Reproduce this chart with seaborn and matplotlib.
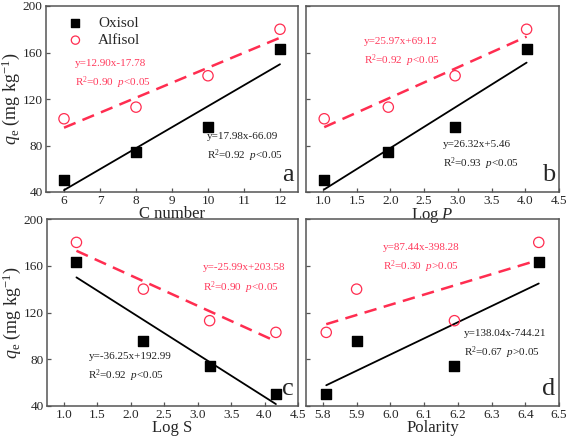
import numpy as np
import pandas as pd
import seaborn as sns
import matplotlib.pyplot as plt

# adsorbed amount q_e (mg/kg) of the four compounds
oxisol = [50, 74, 96, 163]
alfisol = [103, 113, 140, 180]

# compound descriptors, same compound order as above
c_number = [6, 8, 10, 12]
log_p = [1.02, 1.97, 2.96, 4.02]
log_s = [4.17, 3.18, 2.19, 1.19]
polarity = [5.81, 6.19, 5.90, 6.44]

red = '#ff2d50'
red_txt = '#ff3a5c'

panels = [
    # x values, xlabel, xlim, xticks, letter, red text (pos), black text (pos)
    (c_number, 'C number', (5.5, 12.5), np.arange(6, 13, 1), 'a',
     ('y=12.90x-17.78', r'R$^2$=0.90  $p$<0.05', 0.115, 0.69),
     ('y=17.98x-66.09', r'R$^2$=0.92  $p$<0.05', 0.64, 0.30)),
    (log_p, r'Log $P$', (0.75, 4.5), np.arange(1.0, 4.51, 0.5), 'b',
     ('y=25.97x+69.12', r'R$^2$=0.92  $p$<0.05', 0.23, 0.81),
     ('y=26.32x+5.46', r'R$^2$=0.93  $p$<0.05', 0.54, 0.255)),
    (log_s, 'Log S', (0.75, 4.5), np.arange(1.0, 4.51, 0.5), 'c',
     ('y=-25.99x+203.58', r'R$^2$=0.90  $p$<0.05', 0.62, 0.74),
     ('y=-36.25x+192.99', r'R$^2$=0.92  $p$<0.05', 0.165, 0.265)),
    (polarity, 'Polarity', (5.75, 6.5), np.arange(5.8, 6.51, 0.1), 'd',
     ('y=87.44x-398.28', r'R$^2$=0.30  $p$>0.05', 0.305, 0.85),
     ('y=138.04x-744.21', r'R$^2$=0.67  $p$>0.05', 0.625, 0.39)),
]

sns.set_theme(style='ticks')
plt.rcParams['font.family'] = ['Liberation Serif', 'DejaVu Serif']
plt.rcParams['mathtext.fontset'] = 'custom'
plt.rcParams['mathtext.rm'] = 'Liberation Serif'
plt.rcParams['mathtext.it'] = 'Liberation Serif:italic'
plt.rcParams['xtick.direction'] = 'in'
plt.rcParams['ytick.direction'] = 'in'

fig = plt.figure(figsize=(5.67, 4.38), dpi=100)
boxes = [
    [46 / 567, 1 - 192 / 438, 252 / 567, 186 / 438],
    [306 / 567, 1 - 192 / 438, 253 / 567, 186 / 438],
    [47 / 567, 1 - 406 / 438, 251 / 567, 187 / 438],
    [306 / 567, 1 - 406 / 438, 253 / 567, 187 / 438],
]

for i, (xv, xlabel, xlim, xticks, letter, rtxt, btxt) in enumerate(panels):
    ax = fig.add_axes(boxes[i])
    ax.patch.set_alpha(0)
    df = pd.DataFrame({'x': xv, 'Oxisol': oxisol, 'Alfisol': alfisol})

    sns.regplot(data=df, x='x', y='Oxisol', ax=ax, scatter=False, ci=None,
                line_kws={'color': 'black', 'lw': 1.3})
    sns.regplot(data=df, x='x', y='Alfisol', ax=ax, scatter=False, ci=None,
                line_kws={'color': red, 'lw': 1.8, 'ls': (0, (5, 3))})
    ax.scatter(df['x'], df['Oxisol'], marker='s', s=45, color='black',
               label='Oxisol', zorder=3)
    ax.scatter(df['x'], df['Alfisol'], marker='o', s=55, facecolor='none',
               edgecolor=red, linewidths=0.9, label='Alfisol', zorder=3)

    ax.set_xlim(*xlim)
    ax.set_ylim(40, 200)
    ax.set_xticks(xticks)
    if letter != 'a':
        ax.set_xticklabels(['%.1f' % t for t in xticks])
    ax.set_yticks([40, 80, 120, 160, 200])
    ax.tick_params(labelsize=9.5, length=3, width=0.9, color='#555555', pad=2.5)
    for s in ax.spines.values():
        s.set_color('#555555')
        s.set_linewidth(1.1)
    ax.set_xlabel(xlabel, fontsize=12, labelpad=-1)
    if i % 2 == 0:
        ax.set_ylabel(r'$q_\mathrm{e}$ (mg kg$^{-1}$)', fontsize=13)
        ax.yaxis.set_label_coords(-0.097, 0.5)
    else:
        ax.set_ylabel('')
        ax.set_yticklabels([])

    ax.text(rtxt[2], rtxt[3], rtxt[0], transform=ax.transAxes, color=red_txt,
            fontsize=8, va='center')
    ax.text(rtxt[2], rtxt[3] - 0.105, rtxt[1], transform=ax.transAxes,
            color=red_txt, fontsize=8, va='center')
    ax.text(btxt[2], btxt[3], btxt[0], transform=ax.transAxes, color='#222222',
            fontsize=8, va='center')
    ax.text(btxt[2], btxt[3] - 0.105, btxt[1], transform=ax.transAxes,
            color='#222222', fontsize=8, va='center')
    ax.text(0.985, 0.03, letter, transform=ax.transAxes, fontsize=19,
            ha='right', va='bottom')

    if i == 0:
        ax.legend(loc='upper left', frameon=False, fontsize=11,
                  bbox_to_anchor=(0.044, 1.0), handlelength=1.0,
                  handletextpad=1.0, labelspacing=0.2, borderaxespad=0.3,
                  markerscale=0.8)

fig.savefig('out.png', dpi=100)
